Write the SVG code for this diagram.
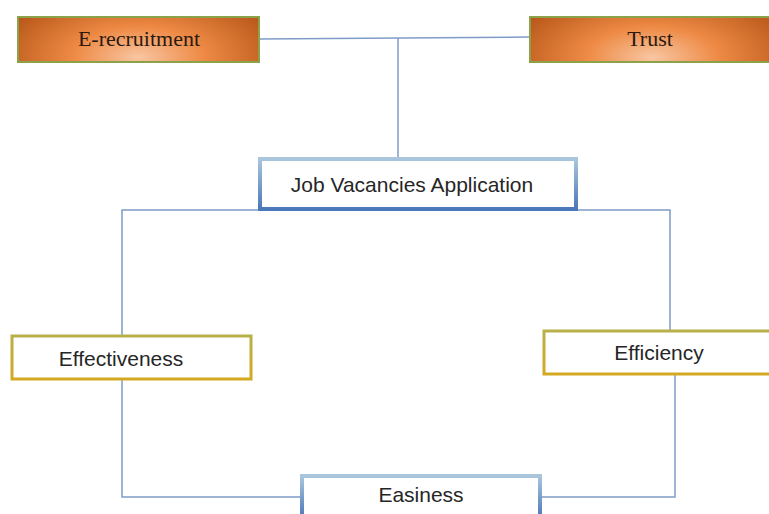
<svg xmlns="http://www.w3.org/2000/svg" width="769" height="514" viewBox="0 0 769 514">
<defs>
<radialGradient id="og" cx="0.5" cy="0.9" r="0.6" gradientTransform="translate(0.5 0.9) scale(1 2.5) translate(-0.5 -0.9)">
<stop offset="0" stop-color="#f8c6a2"/>
<stop offset="0.45" stop-color="#ee8a45"/>
<stop offset="1" stop-color="#b9581a"/>
</radialGradient>
<linearGradient id="bb" x1="0" y1="0" x2="0" y2="1">
<stop offset="0" stop-color="#a9c6dc"/>
<stop offset="1" stop-color="#4a78b8"/>
</linearGradient>
<linearGradient id="gb" x1="0" y1="0" x2="0" y2="1">
<stop offset="0" stop-color="#b8b04a"/>
<stop offset="1" stop-color="#d4a820"/>
</linearGradient>
<style>
.ln{fill:none;stroke:#7f9cc8;stroke-width:1.5}
.or{fill:url(#og);stroke:#8aa34a;stroke-width:2}
.bl{fill:#fff;stroke:url(#bb);stroke-width:4}
.gd{fill:#fff;stroke:url(#gb);stroke-width:3}
.st{font-family:"Liberation Serif",serif;font-size:22px;fill:#2a1a10;text-anchor:middle}
.ss{font-family:"Liberation Sans",Arial,sans-serif;font-size:21px;fill:#262626;text-anchor:middle}
</style>
</defs>
<g id="connectors">
<polyline class="ln" points="259,39 530,37"/>
<line class="ln" x1="398" y1="38" x2="398" y2="157"/>
<polyline class="ln" points="258,210 122,210 122,335"/>
<polyline class="ln" points="578,210 670,210 670,330"/>
<polyline class="ln" points="122,379 122,497 301,497"/>
<polyline class="ln" points="675,374 675,497 541,497"/>
</g>
<g id="e-recruitment">
<rect class="or" x="18" y="17" width="241" height="45"/>
<text class="st" x="139" y="46">E-recruitment</text>
</g>
<g id="trust">
<rect class="or" x="530" y="17" width="245" height="45"/>
<text class="st" x="650" y="46">Trust</text>
</g>
<g id="job-vacancies">
<rect class="bl" x="260" y="159" width="316" height="50"/>
<text class="ss" x="412" y="192">Job Vacancies Application</text>
</g>
<g id="effectiveness">
<rect class="gd" x="12" y="336" width="239" height="43"/>
<text class="ss" x="121" y="366">Effectiveness</text>
</g>
<g id="efficiency">
<rect class="gd" x="544" y="331" width="230" height="43"/>
<text class="ss" x="659" y="360">Efficiency</text>
</g>
<g id="easiness">
<rect class="bl" x="302" y="476" width="238" height="42"/>
<text class="ss" x="421" y="502">Easiness</text>
</g>
</svg>
